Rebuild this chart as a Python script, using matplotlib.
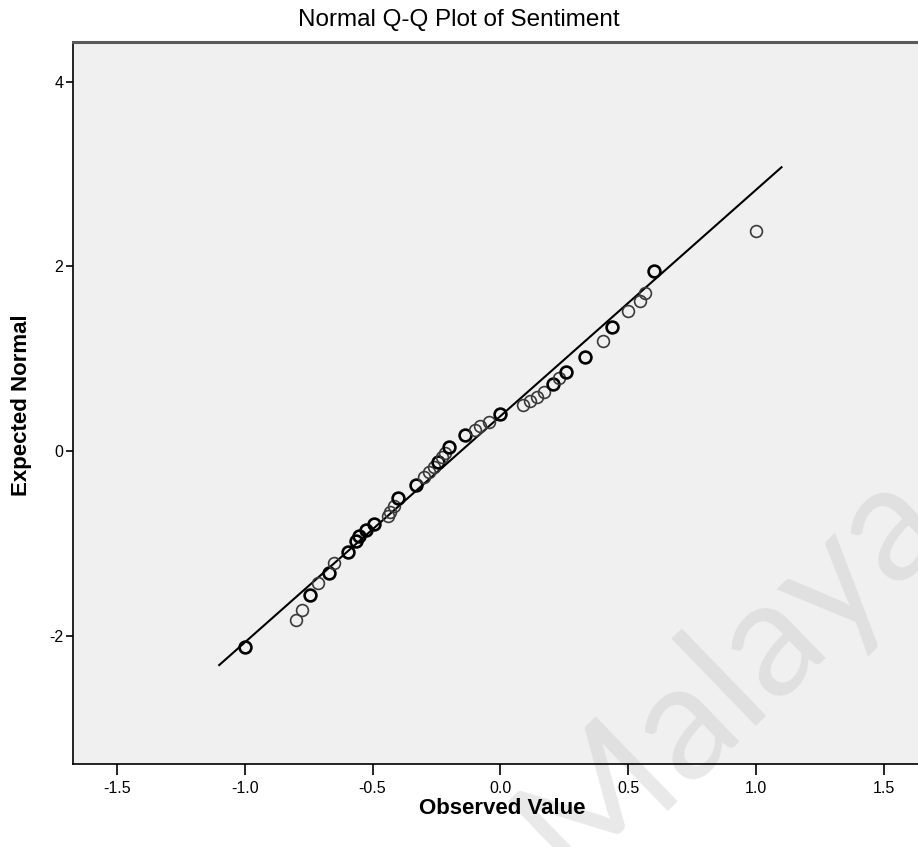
import matplotlib
matplotlib.use("Agg")
import matplotlib.pyplot as plt

# observed sentiment vs. expected normal quantile
observed = [-1.00, -0.80, -0.775, -0.745, -0.715, -0.67, -0.65, -0.595,
            -0.565, -0.555, -0.525, -0.495, -0.44, -0.43, -0.415, -0.40,
            -0.33, -0.30, -0.28, -0.26, -0.245, -0.23, -0.215, -0.20,
            -0.14, -0.10, -0.08, -0.045, 0.00, 0.09, 0.115, 0.145, 0.17,
            0.205, 0.23, 0.255, 0.333, 0.40, 0.435, 0.50, 0.545, 0.565,
            0.60, 1.00]
expected = [-2.12, -1.83, -1.72, -1.56, -1.43, -1.32, -1.21, -1.09,
            -0.97, -0.92, -0.86, -0.79, -0.70, -0.66, -0.60, -0.51,
            -0.37, -0.28, -0.23, -0.17, -0.12, -0.07, -0.02, 0.04,
            0.17, 0.23, 0.27, 0.31, 0.40, 0.50, 0.54, 0.59, 0.64,
            0.73, 0.79, 0.86, 1.02, 1.19, 1.34, 1.52, 1.62, 1.71,
            1.95, 2.38]
# number of cases sharing each point (ties are drawn darker)
n_cases = [2, 1, 1, 2, 1, 2, 1, 2,
           2, 2, 2, 2, 1, 1, 1, 2,
           2, 1, 1, 1, 2, 1, 1, 2,
           2, 1, 1, 1, 2, 1, 1, 1, 1,
           2, 1, 2, 2, 1, 2, 1, 1, 1,
           2, 1]

# reference line = normal with sample mean / sd
mean_obs = -0.154
sd_obs = 0.408
line_x = [-1.10, 1.10]

xticks = [-1.5, -1.0, -0.5, 0.0, 0.5, 1.0, 1.5]
yticks = [-2, 0, 2, 4]

font = ["Liberation Sans", "DejaVu Sans"]

fig = plt.figure(figsize=(9.18, 8.47), dpi=100)
ax = fig.add_axes([73 / 918, 1 - 764 / 847, 1 - 73 / 918, (764 - 42) / 847])
ax.set_facecolor("#f0f0f0")

line_y = [(v - mean_obs) / sd_obs for v in line_x]
ax.plot(line_x, line_y, color="black", lw=1.5, zorder=2)

for xo, ye, n in zip(observed, expected, n_cases):
    ax.plot(xo, ye, marker="o", ms=8.5, mfc="none",
            mec="black" if n > 1 else "#3a3a3a",
            mew=1.9 if n > 1 else 1.2, zorder=3)

ax.set_xlim(-1.672, 1.634)
ax.set_ylim(-3.39, 4.43)
ax.set_xticks(xticks)
ax.set_xticklabels(["%.1f" % t for t in xticks], fontfamily=font, fontsize=11.5)
ax.set_yticks(yticks)
ax.set_yticklabels([str(t) for t in yticks], fontfamily=font, fontsize=11.5)
ax.tick_params(axis="x", length=8, width=1.2, pad=4)
ax.tick_params(axis="y", length=5, width=1.2, pad=2)

ax.spines["right"].set_visible(False)
ax.spines["left"].set_linewidth(1.2)
ax.spines["bottom"].set_linewidth(1.2)
ax.spines["top"].set_color("#5a5a5a")
ax.spines["top"].set_linewidth(2.2)

fig.text(22 / 918, 1 - 405 / 847, "Expected Normal", fontfamily=font,
         fontsize=16, fontweight="bold", rotation=90, ha="center", va="center")
fig.text(502 / 918, 1 - 808 / 847, "Observed Value", fontfamily=font,
         fontsize=16, fontweight="bold", ha="center", va="center")
fig.text(0.5, 1 - 20 / 847, "Normal Q-Q Plot of Sentiment", fontfamily=font,
         fontsize=17.5, ha="center", va="center")

# faint repository watermark
ax.text(730 / 918, 1 - 672 / 847, "Malaya", transform=fig.transFigure,
        fontsize=118, rotation=44, color="#c8c8c8", alpha=0.4,
        fontfamily=["Lato", "DejaVu Sans"], fontweight="normal",
        ha="center", va="center", clip_on=False, zorder=1)

fig.savefig("out.png", dpi=100)
